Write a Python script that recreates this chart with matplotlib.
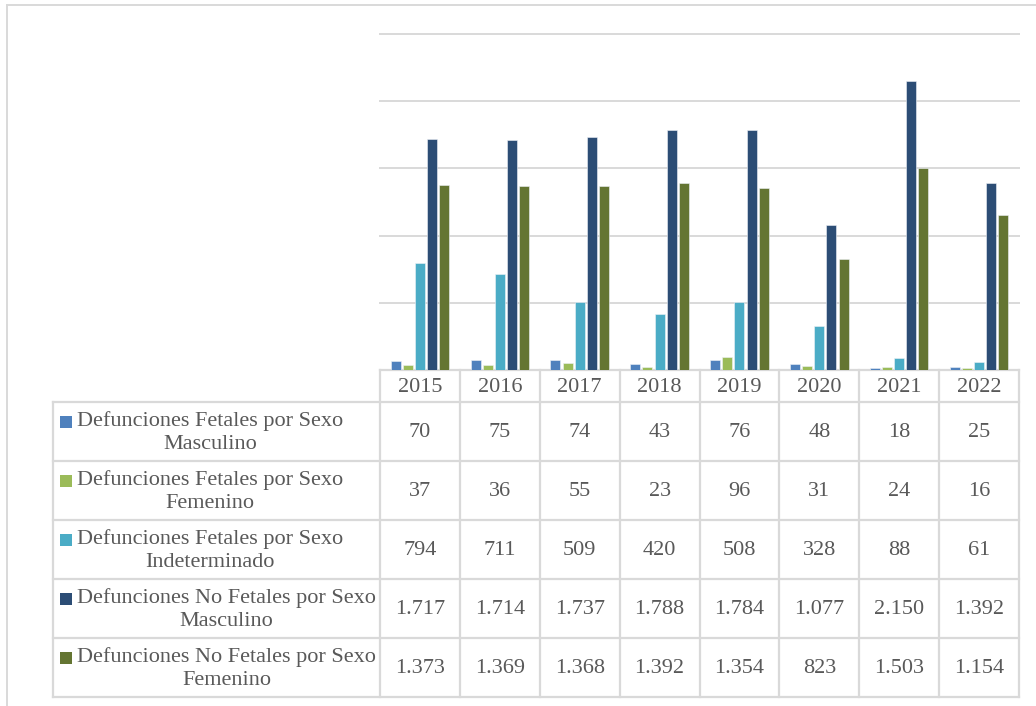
import matplotlib
matplotlib.use("Agg")
import matplotlib.pyplot as plt
from matplotlib.patches import Rectangle

# data
years = ["2015", "2016", "2017", "2018", "2019", "2020", "2021", "2022"]
series_names = [
    "Defunciones Fetales por Sexo\nMasculino",
    "Defunciones Fetales por Sexo\nFemenino",
    "Defunciones Fetales por Sexo\nIndeterminado",
    "Defunciones No Fetales por Sexo\nMasculino",
    "Defunciones No Fetales por Sexo\nFemenino",
]
fetal_masc = [70, 75, 74, 43, 76, 48, 18, 25]
fetal_fem = [37, 36, 55, 23, 96, 31, 24, 16]
fetal_indet = [794, 711, 509, 420, 508, 328, 88, 61]
nofetal_masc = [1717, 1714, 1737, 1788, 1784, 1077, 2150, 1392]
nofetal_fem = [1373, 1369, 1368, 1392, 1354, 823, 1503, 1154]

series = [fetal_masc, fetal_fem, fetal_indet, nofetal_masc, nofetal_fem]
colors = ["#4F81BD", "#9BBB59", "#4BACC6", "#2C4D75", "#647532"]

W, H = 1036, 706
grid_c = "#D9D9D9"
text_c = "#595959"
font = "Liberation Serif"
fsize = 16

# pixel layout
plot_l, plot_r = 380, 1019
plot_t, plot_b = 34, 370
lab_l = 53
head_b = 402
row_h = 59

fig = plt.figure(figsize=(W / 100, H / 100), dpi=100)

# pixel overlay for the table and frame
tab = fig.add_axes([0, 0, 1, 1])
tab.set_xlim(0, W)
tab.set_ylim(H, 0)
tab.axis("off")

ax = fig.add_axes([plot_l / W, (H - plot_b) / H,
                   (plot_r - plot_l) / W, (plot_b - plot_t) / H])
ax.set_xlim(-0.5, len(years) - 0.5)
ax.set_ylim(0, 2500)
for v in range(0, 2501, 500):
    ax.axhline(v, color=grid_c, lw=1.4, zorder=0, clip_on=False)

bw = 0.125
step = 0.152
for k, (vals, c) in enumerate(zip(series, colors)):
    xs = [i + (k - 2) * step for i in range(len(years))]
    ax.bar(xs, vals, width=bw, color=c, edgecolor="#EEF2F7",
           linewidth=0.4, zorder=2)
ax.set_xticks([])
ax.set_yticks([])
for s in ax.spines.values():
    s.set_visible(False)
ax.patch.set_alpha(0)

# outer frame
tab.plot([7, 7], [5, H], color=grid_c, lw=1.4)
tab.plot([7, W], [5, 5], color=grid_c, lw=1.4)

# table grid
col_w = (plot_r - plot_l) / len(years)
n_rows = len(series)
tab_b = head_b + n_rows * row_h
tab.plot([plot_l, plot_r], [plot_b, plot_b], color=grid_c, lw=1.6)
for r in range(n_rows + 1):
    y = head_b + r * row_h
    tab.plot([lab_l, plot_r], [y, y], color=grid_c, lw=1.6)
tab.plot([lab_l, lab_l], [head_b, tab_b], color=grid_c, lw=1.6)
for i in range(len(years) + 1):
    x = plot_l + i * col_w
    tab.plot([x, x], [plot_b, tab_b], color=grid_c, lw=1.6)

# year header
for i, yr in enumerate(years):
    tab.text(plot_l + (i + 0.5) * col_w, (plot_b + head_b) / 2 + 2, yr,
             ha="center", va="center", family=font, size=fsize, color=text_c)


def fmt(v):
    return f"{v:,}".replace(",", ".")


fig.canvas.draw()
renderer = fig.canvas.get_renderer()

for r, (name, vals, c) in enumerate(zip(series_names, series, colors)):
    yc = head_b + (r + 0.5) * row_h
    t = tab.text(77, yc + 1, name, ha="left",
                 va="center", multialignment="center", family=font,
                 size=fsize, color=text_c, linespacing=1.35)
    bb = t.get_window_extent(renderer)
    top_px = H - bb.y1
    tab.add_patch(Rectangle((60, top_px + 5), 12, 12, facecolor=c,
                            edgecolor="none"))
    for i, v in enumerate(vals):
        tab.text(plot_l + (i + 0.5) * col_w, yc + 1, fmt(v), ha="center",
                 va="center", family=font, size=fsize, color=text_c)

fig.savefig("out.png", dpi=100, facecolor="white")
